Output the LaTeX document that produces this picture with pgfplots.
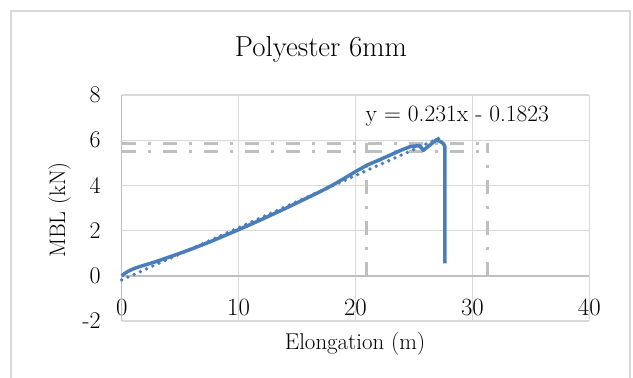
\documentclass[border=0pt]{standalone}
\usepackage{pgfplots}
\pgfplotsset{compat=1.18}
\definecolor{gridgray}{HTML}{D9D9D9}
\definecolor{axisgray}{HTML}{BFBFBF}
\definecolor{dashgray}{HTML}{BFBFBF}
\definecolor{lineblue}{HTML}{4A7EBB}
\begin{document}
\begin{tikzpicture}
\useasboundingbox (0bp,0bp) rectangle (633bp,-378bp);
\draw[gridgray, line width=1.3bp] (11bp,-378bp) -- (11bp,-11bp) -- (630bp,-11bp) -- (630bp,-378bp);
\begin{axis}[
  at={(121.7bp,-321bp)}, anchor=south west,
  scale only axis, width=467.6bp, height=226bp,
  xmin=0, xmax=40, ymin=-2, ymax=8,
  xtick={0,10,20,30,40}, ytick={-2,0,2,4,6,8},
  yticklabels={{-2},{0},{2},{4},{6},{8}},
  grid=major,
  major grid style={color=gridgray, line width=1.3bp},
  axis line style={draw=none},
  major tick length=0pt,
  tick label style={font=\fontsize{24}{28}\selectfont},
  xticklabel style={anchor=base, yshift=6bp},
  yticklabel style={anchor=east, inner xsep=0pt, xshift=-21bp},
  clip=false,
]
% axis lines
\addplot[axisgray, line width=1.5bp] coordinates {(0,-2) (0,8)};
\addplot[axisgray, line width=1.5bp] coordinates {(0,0) (40,0)};
% dash-dot reference lines
\addplot[dashgray, line width=3bp, dash pattern=on 14bp off 12bp on 3bp off 12bp] coordinates {(0,5.86) (31.3,5.86)};
\addplot[dashgray, line width=3bp, dash pattern=on 14bp off 12bp on 3bp off 12bp] coordinates {(0,5.49) (31.3,5.49)};
\addplot[dashgray, line width=3bp, dash pattern=on 14bp off 12bp on 3bp off 12bp] coordinates {(20.9,0) (20.9,5.86)};
\addplot[dashgray, line width=3bp, dash pattern=on 14bp off 12bp on 3bp off 12bp] coordinates {(31.3,0) (31.3,5.86)};
% measured curve
\addplot[lineblue, line width=3.5bp, line join=round] coordinates {
(0,0) (0.3,0.12) (0.7,0.24) (1,0.31) (1.5,0.40) (2,0.48) (3,0.64) (4,0.82) (5,1.00)
(6,1.19) (7,1.39) (8,1.60) (9,1.82) (10,2.04) (11,2.27) (12,2.50) (13,2.74) (14,2.98)
(15,3.23) (16,3.48) (17,3.73) (18,4.00) (19,4.30) (20,4.61) (21,4.90) (22,5.12)
(23,5.35) (24,5.58) (24.7,5.72) (25.5,5.76) (25.8,5.55) (26.95,6.03) (27.5,5.86)
(27.65,5.72) (27.65,0.55)};
% linear trendline
\addplot[lineblue, line width=3.8bp, line cap=round, dash pattern=on 0bp off 6.8bp] coordinates {(0,-0.1823) (27.6,6.1933)};
\node[anchor=base west, inner sep=0pt, font=\fontsize{23.5}{28}\selectfont] at (axis cs:20.85,6.81) {y = 0.231x - 0.1823};
\end{axis}
\node[anchor=base, inner sep=0pt, font=\fontsize{29}{34}\selectfont] at (321bp,-56.7bp) {Polyester 6mm};
\node[anchor=base, inner sep=0pt, font=\fontsize{23}{28}\selectfont] at (355bp,-349.3bp) {Elongation (m)};
\node[anchor=base, rotate=90, inner sep=0pt, font=\fontsize{22.5}{28}\selectfont] at (65bp,-210bp) {MBL (kN)};
\end{tikzpicture}
\end{document}
